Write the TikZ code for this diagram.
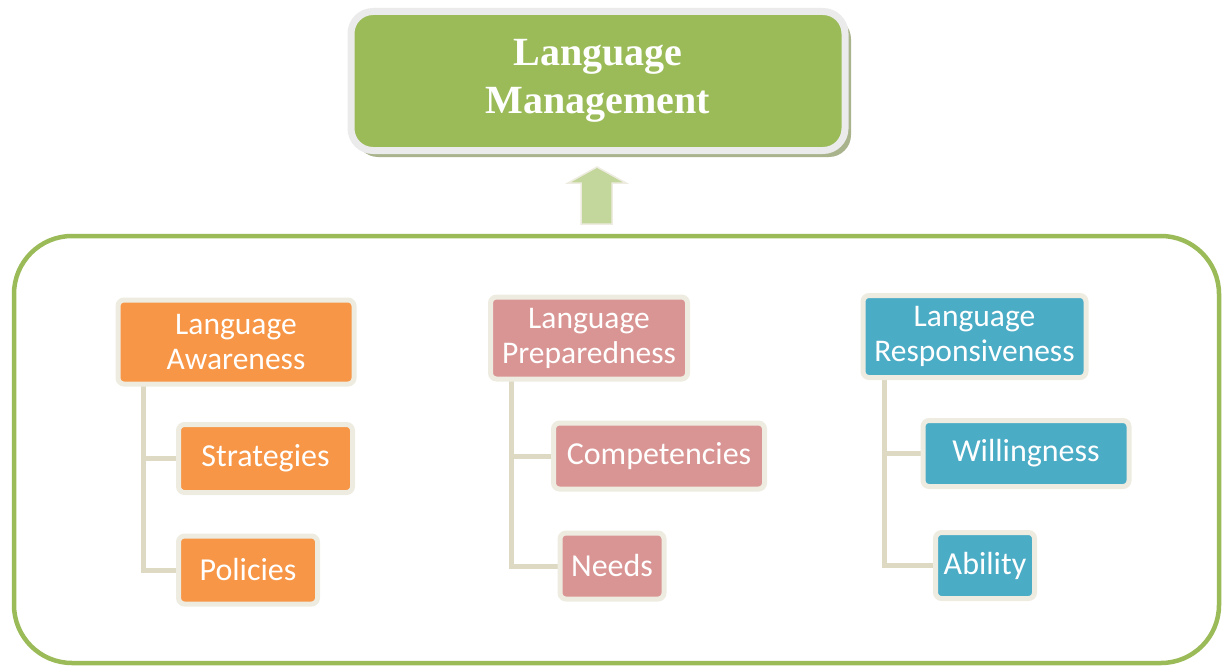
\documentclass[tikz,border=0pt]{standalone}
\usepackage{fontspec}
\setmainfont{Carlito}
\newfontfamily\titlefont{Liberation Serif}
\usetikzlibrary{backgrounds}
\definecolor{lmgreen}{HTML}{9BBB59}
\definecolor{lmorange}{HTML}{F79646}
\definecolor{lmpink}{HTML}{D99594}
\definecolor{lmblue}{HTML}{4BACC6}
\definecolor{lmbeige}{HTML}{EEECE1}
\definecolor{lmconn}{HTML}{DDD9C3}
\definecolor{lmarrow}{HTML}{C3D69B}
\definecolor{lmshadow}{HTML}{A9B38C}
\tikzset{
  box/.style={draw=lmbeige, line width=5pt, rounded corners=6pt, inner sep=0pt, outer sep=0pt,
    text=white, align=center, font=\fontsize{31.5}{35}\selectfont},
  childbox/.style={box, font=\fontsize{32}{35}\selectfont},
  conn/.style={draw=lmconn, line width=5pt},
}
\begin{document}
\begin{tikzpicture}[x=1pt,y=-1pt]
\useasboundingbox (0,0) rectangle (1224,669);
% big frame
\draw[lmgreen, line width=4.5pt, rounded corners=58pt] (14,236) rectangle (1219,663);
% top box shadow
\fill[lmshadow, rounded corners=22pt] (356,17) rectangle (851,157);
\node[draw=white!92!black, line width=7pt, fill=lmgreen, rounded corners=22pt,
  minimum width=494pt, minimum height=139pt, inner sep=0pt, text=white, align=center,
  font=\titlefont\bfseries\fontsize{40}{48}\selectfont] (lm) at (598,81) {\raisebox{-3pt}{Language}\\\raisebox{-3pt}{Management}};
% block arrow
\draw[lmbeige, fill=lmarrow, line width=1.5pt, line join=miter]
  (581,224) -- (581,183) -- (568,183) -- (597,167) -- (626,183) -- (612,183) -- (612,224) -- cycle;
% column 1
\node[box, fill=lmorange, minimum width=236pt, minimum height=84pt] (aw) at (236,342) {Language\\Awareness};
\node[childbox, fill=lmorange, minimum width=174pt, minimum height=68pt] (st) at (265.5,458.5) {Strategies};
\node[childbox, fill=lmorange, minimum width=139pt, minimum height=68pt] (po) at (248,570) {Policies};
% column 2
\node[box, fill=lmpink, minimum width=197pt, minimum height=82pt] (pr) at (589,338) {Language\\Preparedness};
\node[childbox, fill=lmpink, minimum width=211pt, minimum height=66pt] (co) at (659,456) {Competencies};
\node[childbox, fill=lmpink, minimum width=104pt, minimum height=66pt] (ne) at (612,566) {Needs};
% column 3
\node[box, fill=lmblue, minimum width=223pt, minimum height=82pt] (re) at (974.5,336.5) {Language\\Responsiveness};
\node[childbox, fill=lmblue, minimum width=206pt, minimum height=66pt] (wi) at (1026,453.5) {Willingness};
\node[childbox, fill=lmblue, minimum width=99pt, minimum height=66pt] (ab) at (985,565.5) {Ability};
% connectors
\begin{scope}[on background layer]
\draw[conn] ([xshift=25pt]aw.south west) |- (st.west);
\draw[conn] ([xshift=25pt]aw.south west) |- (po.west);
\draw[conn] ([xshift=21pt]pr.south west) |- (co.west);
\draw[conn] ([xshift=21pt]pr.south west) |- (ne.west);
\draw[conn] ([xshift=21pt]re.south west) |- (wi.west);
\draw[conn] ([xshift=21pt]re.south west) |- (ab.west);
\end{scope}
\end{tikzpicture}
\end{document}
